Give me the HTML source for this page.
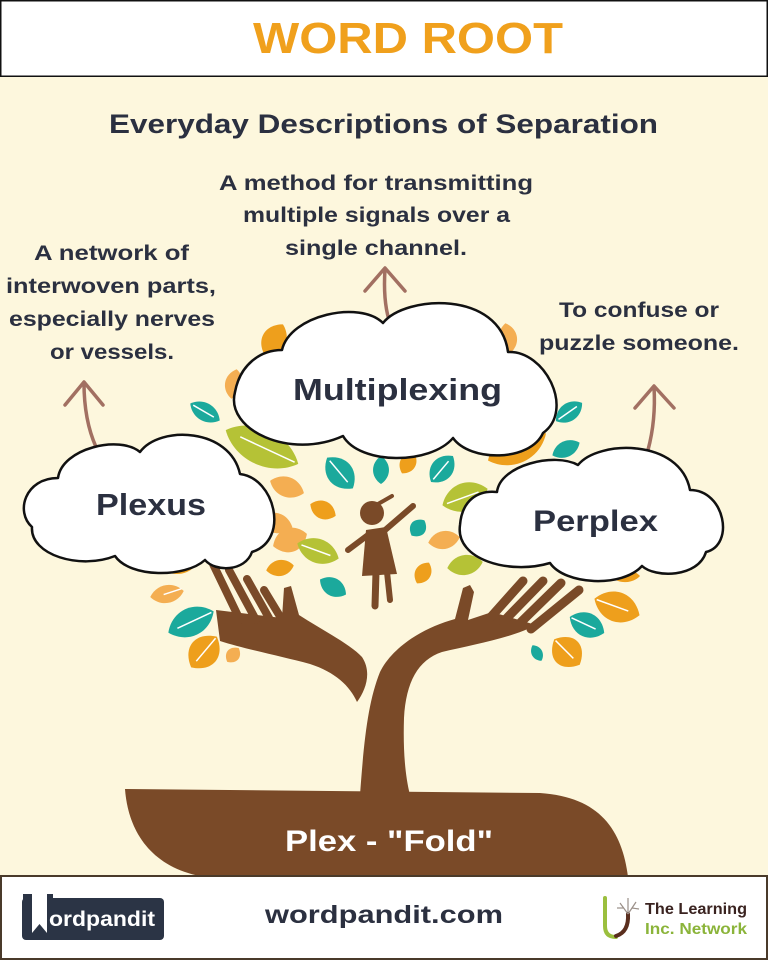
<!DOCTYPE html>
<html><head><meta charset="utf-8"><style>
html,body{margin:0;padding:0;background:#FDF7DD;}
svg{display:block;}
text{font-family:"Liberation Sans",sans-serif;font-weight:bold;}
</style></head><body>
<svg width="768" height="960" viewBox="0 0 768 960" xmlns="http://www.w3.org/2000/svg">
<rect width="768" height="960" fill="#FDF7DD"/>
<!-- header -->
<rect x="0.75" y="0.75" width="766.5" height="75.5" fill="#fff" stroke="#111" stroke-width="1.5"/>
<text x="253" y="53" font-size="44" fill="#F0A01C" textLength="310" lengthAdjust="spacingAndGlyphs">WORD ROOT</text>
<text x="109" y="133" font-size="27" fill="#2B3040" textLength="549" lengthAdjust="spacingAndGlyphs">Everyday Descriptions of Separation</text>

<!-- descriptions -->
<g fill="#2B3040" font-size="21">
<text x="219" y="190" textLength="314" lengthAdjust="spacingAndGlyphs">A method for transmitting</text>
<text x="243" y="222" textLength="267" lengthAdjust="spacingAndGlyphs">multiple signals over a</text>
<text x="285" y="255" textLength="182" lengthAdjust="spacingAndGlyphs">single channel.</text>
<text x="34" y="260" textLength="155" lengthAdjust="spacingAndGlyphs">A network of</text>
<text x="6" y="293" textLength="210" lengthAdjust="spacingAndGlyphs">interwoven parts,</text>
<text x="9" y="326" textLength="206" lengthAdjust="spacingAndGlyphs">especially nerves</text>
<text x="50" y="359" textLength="124" lengthAdjust="spacingAndGlyphs">or vessels.</text>
<text x="559" y="317" textLength="160" lengthAdjust="spacingAndGlyphs">To confuse or</text>
<text x="539" y="350" textLength="200" lengthAdjust="spacingAndGlyphs">puzzle someone.</text>
</g>

<!-- arrows -->
<g stroke="#A27062" stroke-width="3.5" fill="none" stroke-linecap="round" stroke-linejoin="round">
<path d="M389 320 Q383 300 385 269"/><path d="M365 291 L385 268 L405 291"/>
<path d="M96 447 Q84 420 84 383"/><path d="M65 405 L84 382 L103 405"/>
<path d="M648 450 Q656 420 654 387"/><path d="M635 408 L654 386 L674 408"/>
</g>

<!-- leaves -->
<g>
<g transform="translate(274 340) rotate(-60) scale(18 17.8)"><path d="M-1 0C-.5-.9.5-.9 1 0C.5.9-.5.9-1 0Z" fill="#EE9F1C"/></g>
<g transform="translate(234 384) rotate(-80) scale(15 13.3)"><path d="M-1 0C-.5-.9.5-.9 1 0C.5.9-.5.9-1 0Z" fill="#F4AE52"/></g>
<g transform="translate(205 412) rotate(30) scale(17 13.3)"><path d="M-1 0C-.5-.9.5-.9 1 0C.5.9-.5.9-1 0Z" fill="#1BA99C"/><path d="M-.8 0L.6 0" stroke="#fff" stroke-width="1.5" vector-effect="non-scaling-stroke"/></g>
<g transform="translate(262 447) rotate(25) scale(40 26.6)"><path d="M-1 0C-.5-.9.5-.9 1 0C.5.9-.5.9-1 0Z" fill="#B5C236"/><path d="M-.6 0L.9 0" stroke="#fff" stroke-width="1.5" vector-effect="non-scaling-stroke"/></g>
<g transform="translate(287 487) rotate(20) scale(18 14.8)"><path d="M-1 0C-.5-.9.5-.9 1 0C.5.9-.5.9-1 0Z" fill="#F4AE52"/></g>
<g transform="translate(508 338) rotate(80) scale(15 13.3)"><path d="M-1 0C-.5-.9.5-.9 1 0C.5.9-.5.9-1 0Z" fill="#F4AE52"/></g>
<g transform="translate(569 412) rotate(-35) scale(16 13.3)"><path d="M-1 0C-.5-.9.5-.9 1 0C.5.9-.5.9-1 0Z" fill="#1BA99C"/><path d="M-.8 0L.6 0" stroke="#fff" stroke-width="1.5" vector-effect="non-scaling-stroke"/></g>
<g transform="translate(566 449) rotate(-25) scale(15 11.8)"><path d="M-1 0C-.5-.9.5-.9 1 0C.5.9-.5.9-1 0Z" fill="#1BA99C"/></g>
<g transform="translate(517 447) rotate(-25) scale(32 23.7)"><path d="M-1 0C-.5-.9.5-.9 1 0C.5.9-.5.9-1 0Z" fill="#EE9F1C"/></g>
<g transform="translate(340 473) rotate(50) scale(20 19.2)"><path d="M-1 0C-.5-.9.5-.9 1 0C.5.9-.5.9-1 0Z" fill="#1BA99C"/><path d="M-.8 0L.6 0" stroke="#fff" stroke-width="1.5" vector-effect="non-scaling-stroke"/></g>
<g transform="translate(381 470) rotate(90) scale(14 11.8)"><path d="M-1 0C-.5-.9.5-.9 1 0C.5.9-.5.9-1 0Z" fill="#1BA99C"/></g>
<g transform="translate(408 463) rotate(-60) scale(12 11.8)"><path d="M-1 0C-.5-.9.5-.9 1 0C.5.9-.5.9-1 0Z" fill="#EE9F1C"/></g>
<g transform="translate(442 469) rotate(-50) scale(17 16.3)"><path d="M-1 0C-.5-.9.5-.9 1 0C.5.9-.5.9-1 0Z" fill="#1BA99C"/><path d="M-.8 0L.6 0" stroke="#fff" stroke-width="1.5" vector-effect="non-scaling-stroke"/></g>
<g transform="translate(465 497) rotate(-20) scale(24 20.7)"><path d="M-1 0C-.5-.9.5-.9 1 0C.5.9-.5.9-1 0Z" fill="#B5C236"/><path d="M-.8 0L.6 0" stroke="#fff" stroke-width="1.5" vector-effect="non-scaling-stroke"/></g>
<g transform="translate(323 510) rotate(25) scale(14 13.3)"><path d="M-1 0C-.5-.9.5-.9 1 0C.5.9-.5.9-1 0Z" fill="#EE9F1C"/></g>
<g transform="translate(276 523) rotate(15) scale(17 14.8)"><path d="M-1 0C-.5-.9.5-.9 1 0C.5.9-.5.9-1 0Z" fill="#F4AE52"/></g>
<g transform="translate(290 540) rotate(-20) scale(18 17.8)"><path d="M-1 0C-.5-.9.5-.9 1 0C.5.9-.5.9-1 0Z" fill="#F4AE52"/></g>
<g transform="translate(318 551) rotate(20) scale(22 17.8)"><path d="M-1 0C-.5-.9.5-.9 1 0C.5.9-.5.9-1 0Z" fill="#B5C236"/><path d="M-.8 0L.6 0" stroke="#fff" stroke-width="1.5" vector-effect="non-scaling-stroke"/></g>
<g transform="translate(280 568) rotate(-10) scale(14 11.8)"><path d="M-1 0C-.5-.9.5-.9 1 0C.5.9-.5.9-1 0Z" fill="#EE9F1C"/></g>
<g transform="translate(333 587) rotate(30) scale(15 13.3)"><path d="M-1 0C-.5-.9.5-.9 1 0C.5.9-.5.9-1 0Z" fill="#1BA99C"/></g>
<g transform="translate(418 528) rotate(-50) scale(10 11.8)"><path d="M-1 0C-.5-.9.5-.9 1 0C.5.9-.5.9-1 0Z" fill="#1BA99C"/></g>
<g transform="translate(444 540) rotate(-10) scale(16 13.3)"><path d="M-1 0C-.5-.9.5-.9 1 0C.5.9-.5.9-1 0Z" fill="#F4AE52"/></g>
<g transform="translate(423 573) rotate(-60) scale(12 11.8)"><path d="M-1 0C-.5-.9.5-.9 1 0C.5.9-.5.9-1 0Z" fill="#EE9F1C"/></g>
<g transform="translate(465 565) rotate(-10) scale(18 14.8)"><path d="M-1 0C-.5-.9.5-.9 1 0C.5.9-.5.9-1 0Z" fill="#B5C236"/></g>
<g transform="translate(177 567) rotate(0) scale(17 10.4)"><path d="M-1 0C-.5-.9.5-.9 1 0C.5.9-.5.9-1 0Z" fill="#EE9F1C"/></g>
<g transform="translate(167 594) rotate(-10) scale(17 13.3)"><path d="M-1 0C-.5-.9.5-.9 1 0C.5.9-.5.9-1 0Z" fill="#F4AE52"/><path d="M-.2 0L.9 -.2" stroke="#fff" stroke-width="1.5" vector-effect="non-scaling-stroke"/></g>
<g transform="translate(191 622) rotate(-25) scale(25 20.7)"><path d="M-1 0C-.5-.9.5-.9 1 0C.5.9-.5.9-1 0Z" fill="#1BA99C"/><path d="M-.6 0L.9 0" stroke="#fff" stroke-width="1.5" vector-effect="non-scaling-stroke"/></g>
<g transform="translate(204 652) rotate(-50) scale(20 22)"><path d="M-1 0C-.5-.9.5-.9 1 0C.5.9-.5.9-1 0Z" fill="#EE9F1C"/><path d="M-.6 0L.9 0" stroke="#fff" stroke-width="1.5" vector-effect="non-scaling-stroke"/></g>
<g transform="translate(233 655) rotate(-50) scale(9 10)"><path d="M-1 0C-.5-.9.5-.9 1 0C.5.9-.5.9-1 0Z" fill="#F4AE52"/></g>
<g transform="translate(625 576) rotate(0) scale(15 9)"><path d="M-1 0C-.5-.9.5-.9 1 0C.5.9-.5.9-1 0Z" fill="#EE9F1C"/></g>
<g transform="translate(617 607) rotate(20) scale(24 22)"><path d="M-1 0C-.5-.9.5-.9 1 0C.5.9-.5.9-1 0Z" fill="#EE9F1C"/><path d="M-.9 0L.5 0" stroke="#fff" stroke-width="1.5" vector-effect="non-scaling-stroke"/></g>
<g transform="translate(587 625) rotate(25) scale(19 17.8)"><path d="M-1 0C-.5-.9.5-.9 1 0C.5.9-.5.9-1 0Z" fill="#1BA99C"/><path d="M-.9 0L.5 0" stroke="#fff" stroke-width="1.5" vector-effect="non-scaling-stroke"/></g>
<g transform="translate(567 652) rotate(45) scale(18 22)"><path d="M-1 0C-.5-.9.5-.9 1 0C.5.9-.5.9-1 0Z" fill="#EE9F1C"/><path d="M-.9 0L.5 0" stroke="#fff" stroke-width="1.5" vector-effect="non-scaling-stroke"/></g>
<g transform="translate(537 653) rotate(60) scale(9 8)"><path d="M-1 0C-.5-.9.5-.9 1 0C.5.9-.5.9-1 0Z" fill="#1BA99C"/></g>
</g>

<!-- tree: ground, trunk, hands -->
<g fill="#7A4A28">
<path d="M125 789 C128 830 150 868 205 877 L628 877 C622 830 600 797 540 793 Z"/>
<path d="M360 795 C364 740 368 702 380 672 C393 646 425 627 455 619 L463 588 L470 585 L474 592 L468 620 L492 612 L536 625 C512 638 472 645 442 652 C418 660 406 682 404 718 C403 750 405 775 410 795 Z"/>
<path d="M216 610 L282 618 L284 588 L291 586 L299 615 C322 630 350 644 362 657 C372 672 366 690 357 702 C350 686 335 672 310 664 C280 656 245 649 220 641 Z"/>
</g>
<g stroke="#7A4A28" stroke-width="9" stroke-linecap="round" fill="none">
<path d="M490 618 L523 581"/>
<path d="M503 622 L543 581"/>
<path d="M517 626 L561 583"/>
<path d="M531 629 L579 590"/>
</g>
<g stroke="#7A4A28" stroke-width="8" stroke-linecap="round" fill="none">
<path d="M213 564 L240 620"/>
<path d="M229 570 L256 620"/>
<path d="M247 579 L269 618"/>
<path d="M264 590 L281 618"/>
</g>

<!-- girl -->
<g fill="#7A4A28" stroke="#7A4A28" stroke-linecap="round">
<circle cx="372" cy="513" r="12" stroke="none"/>
<path d="M378 504 L392 496" stroke-width="4" fill="none"/>
<path d="M366 530 L386 527 L397 574 L362 576 Z" stroke="none"/>
<path d="M384 531 L413 506" stroke-width="6" fill="none"/>
<path d="M368 535 L348 550" stroke-width="6" fill="none"/>
<path d="M376 572 L375 606" stroke-width="7" fill="none"/>
<path d="M387 572 L390 600" stroke-width="6" fill="none"/>
</g>

<!-- clouds -->
<g fill="#fff" stroke="#111" stroke-width="2.5" stroke-linejoin="round">
<path d="M282 350 C290 315 360 300 383 323 C405 295 500 290 508 352 C545 350 575 410 543 433 C530 462 470 462 453 438 C430 465 360 465 343 436 C290 460 225 430 235 392 C240 365 260 350 282 350 Z"/>
<path d="M58 478 C62 448 120 435 140 452 C160 425 230 428 240 474 C275 478 290 540 252 552 C245 572 215 572 205 560 C185 578 130 578 115 556 C80 570 30 555 32 527 C15 512 25 478 58 478 Z"/>
<path d="M497 492 C500 465 555 452 578 465 C598 440 680 438 690 490 C725 490 735 545 706 552 C698 578 655 578 642 566 C622 588 565 585 550 563 C510 575 455 560 460 525 C462 500 478 490 497 492 Z"/>
</g>
<g fill="#2B3040">
<text x="293" y="400" font-size="31" textLength="209" lengthAdjust="spacingAndGlyphs">Multiplexing</text>
<text x="96" y="515" font-size="31" textLength="110" lengthAdjust="spacingAndGlyphs">Plexus</text>
<text x="533" y="531" font-size="30" textLength="125" lengthAdjust="spacingAndGlyphs">Perplex</text>
</g>
<text x="285" y="851" font-size="30" fill="#fff" textLength="208" lengthAdjust="spacingAndGlyphs">Plex - "Fold"</text>

<!-- footer -->
<rect x="1" y="876" width="766" height="83" fill="#fff" stroke="#4A3A2A" stroke-width="2"/>
<rect x="22" y="898" width="142" height="42" rx="4" fill="#2B3445"/>
<rect x="23" y="894" width="9" height="8" fill="#2B3445"/>
<rect x="47" y="894" width="6" height="8" fill="#2B3445"/>
<path d="M32 898 L47 898 L47 933 L39.5 924 L32 933 Z" fill="#fff"/>
<text x="49" y="926" font-size="21" fill="#fff" textLength="106" lengthAdjust="spacingAndGlyphs">ordpandit</text>
<text x="265" y="923" font-size="25" fill="#2B3040" textLength="238" lengthAdjust="spacingAndGlyphs">wordpandit.com</text>
<path d="M605 898 L605 926 Q605 937 616 937" stroke="#9BBF3E" stroke-width="4" fill="none" stroke-linecap="round"/>
<path d="M616 936 Q629 932 628 914" stroke="#5A2E1E" stroke-width="4" fill="none" stroke-linecap="round"/>
<g stroke="#9A8F88" stroke-width="1.2" fill="none">
<path d="M628 914 L620 903"/><path d="M628 914 L636 902"/><path d="M628 912 L628 898"/><path d="M624 908 L617 908"/><path d="M632 908 L639 909"/>
</g>
<text x="645" y="914" font-size="16" fill="#3A2320" textLength="102" lengthAdjust="spacingAndGlyphs">The Learning</text>
<text x="645" y="934" font-size="16" fill="#8BB43A" textLength="102" lengthAdjust="spacingAndGlyphs">Inc. Network</text>
</svg>
</body></html>
